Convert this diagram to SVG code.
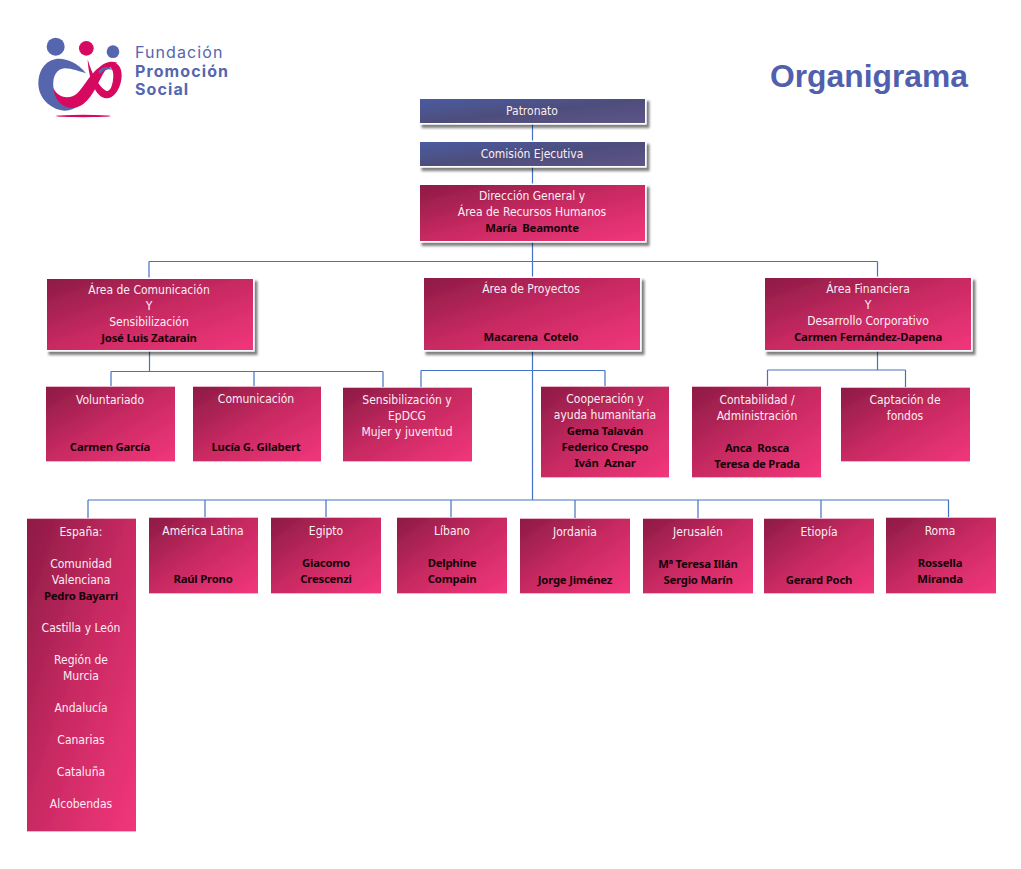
<svg xmlns="http://www.w3.org/2000/svg" width="1021" height="869" viewBox="0 0 1021 869">
<style>
text{font-family:"DejaVu Sans Condensed","DejaVu Sans",sans-serif;font-size:12px;text-anchor:middle;fill:#fbeef3}
text.b{font-family:"Noto Sans","DejaVu Sans",sans-serif;font-weight:bold;fill:#160208;font-size:11.3px;letter-spacing:-.2px;white-space:pre}
.p{fill:url(#pk)}
.v{fill:url(#bl)}
.s{stroke:#fff;stroke-width:3;paint-order:stroke;filter:url(#sh)}
rect.p:not(.s){filter:url(#edge)}
.c{fill:none;stroke:#4472c4;stroke-width:1.2}
text.lt{font-family:Inter,Lato,sans-serif;text-anchor:start;fill:#5566ae;font-size:16px;letter-spacing:1.1px}
text.lb{font-weight:bold}
#title{font-family:"Liberation Sans",Arial,sans-serif;font-weight:bold;font-size:31.8px;fill:#5060ae;text-anchor:start}
.lg{fill:#5566ae}.lp{fill:#d6085f}
</style>
<defs>
<linearGradient id="pk" x1="0" y1="0" x2="1" y2="1"><stop offset="0" stop-color="#8c1b45"/><stop offset=".5" stop-color="#c92a62"/><stop offset="1" stop-color="#f2367c"/></linearGradient>
<linearGradient id="bl" x1="0" y1="0" x2="1" y2="1"><stop offset="0" stop-color="#4a5ba2"/><stop offset=".5" stop-color="#4e4e7c"/><stop offset="1" stop-color="#5e5488"/></linearGradient>
<filter id="sh" x="-10%" y="-30%" width="120%" height="170%"><feDropShadow dx="3" dy="3.500" stdDeviation="1.300" flood-color="#000" flood-opacity=".5"/></filter>
<filter id="edge" x="-2%" y="-5%" width="104%" height="110%"><feFlood flood-color="#eeb6ca" result="f"/><feOffset in="SourceAlpha" dy="1" result="a"/><feOffset in="SourceAlpha" dy="-1" result="b"/><feMerge result="m"><feMergeNode in="a"/><feMergeNode in="b"/></feMerge><feComposite in="f" in2="m" operator="in" result="e"/><feMerge><feMergeNode in="e"/><feMergeNode in="SourceGraphic"/></feMerge></filter>
</defs>
<rect width="1021" height="869" fill="#fff"/>
<g id="logo">
<g transform="translate(20 20) scale(.3333)">
<circle class="lg" cx="107" cy="80" r="27"/><circle class="lp" cx="199" cy="85" r="22"/><circle class="lg" cx="279" cy="95" r="19"/>
<path class="lg" d="M198 160C170 125 130 112 105 118C70 125 55 160 55 190C55 240 100 272 135 272C150 272 165 265 175 258C140 262 105 240 100 200C97 170 110 145 135 145C155 145 180 155 198 160Z"/>
<path class="lp" d="M100 205C115 235 150 240 172 220C192 200 212 160 238 142C250 130 270 120 292 128L255 152C240 172 222 228 190 252C150 280 105 255 100 205Z"/>
<path class="lp" d="M203 118C215 160 235 200 258 212C272 218 280 190 280 165C280 150 272 140 262 135C285 118 305 135 305 165C305 200 285 235 260 235C225 235 205 170 203 118Z"/>
<path class="lg" d="M235 155C245 140 265 135 278 150C265 145 250 148 240 162Z"/>
<ellipse class="lp" cx="190" cy="288" rx="82" ry="3.500"/>
</g>
<text class="lt" x="135" y="58">Fundación</text>
<text class="lt lb" x="135" y="76.500">Promoción</text>
<text class="lt lb" x="135" y="95">Social</text>
</g>
<text id="title" x="770" y="87">Organigrama</text>
<g id="connectors">
<path class="c" d="M532.5 123V142M532.5 166V185M532.5 241V278M149 261.500H877.500M149 261.500V279M877.500 261.500V278"/>
<path class="c" d="M149.500 350V371.500M111 371.500H383M111 371.500V387M254 371.500V387M383 371.500V388"/>
<path class="c" d="M532.500 350V500M421 370.500H605M421 370.500V388M605 370.500V387"/>
<path class="c" d="M877.500 350V370M767.500 370H905.500M767.500 370V387M905.500 370V388"/>
<path class="c" d="M88 500H949M88 500V519M205 500V518M326 500V518M451 500V518M575 500V519M698 500V519M821 500V519M948.500 500V518"/>
</g>
<g id="patronato"><rect class="v s" x="420" y="99" width="225" height="24"/><text x="532" y="115">Patronato</text></g>
<g id="comision"><rect class="v s" x="420" y="142" width="225" height="24"/><text x="532" y="158">Comisión Ejecutiva</text></g>
<g id="direccion"><rect class="p s" x="420" y="185" width="225" height="56"/><text x="532" y="200">Dirección General y</text><text x="532" y="216">Área de Recursos Humanos</text><text class="b" x="532" y="232">María  Beamonte</text></g>
<g id="area-comunicacion"><rect class="p s" x="47" y="279" width="206" height="71"/><text x="149" y="294">Área de Comunicación</text><text x="149" y="310">Y</text><text x="149" y="326">Sensibilización</text><text class="b" x="149" y="342">José Luis Zatarain</text></g>
<g id="area-proyectos"><rect class="p s" x="424" y="278" width="216" height="72"/><text x="531" y="293">Área de Proyectos</text><text class="b" x="531" y="341">Macarena  Cotelo</text></g>
<g id="area-financiera"><rect class="p s" x="765" y="278" width="206" height="72"/><text x="868" y="293">Área Financiera</text><text x="868" y="309">Y</text><text x="868" y="325">Desarrollo Corporativo</text><text class="b" x="868" y="341">Carmen Fernández-Dapena</text></g>
<g id="voluntariado"><rect class="p" x="46" y="387" width="129" height="74"/><text x="110" y="404">Voluntariado</text><text class="b" x="110" y="451">Carmen García</text></g>
<g id="comunicacion"><rect class="p" x="193" y="387" width="128" height="74"/><text x="256" y="403">Comunicación</text><text class="b" x="256" y="451">Lucía G. Gilabert</text></g>
<g id="sensibilizacion"><rect class="p" x="343" y="388" width="129" height="73"/><text x="407" y="404">Sensibilización y</text><text x="407" y="420">EpDCG</text><text x="407" y="436">Mujer y juventud</text></g>
<g id="cooperacion"><rect class="p" x="541" y="387" width="128" height="90"/><text x="605" y="403">Cooperación y</text><text x="605" y="419">ayuda humanitaria</text><text class="b" x="605" y="435">Gema Talaván</text><text class="b" x="605" y="451">Federico Crespo</text><text class="b" x="605" y="467">Iván  Aznar</text></g>
<g id="contabilidad"><rect class="p" x="692" y="387" width="129" height="90"/><text x="757" y="404">Contabilidad /</text><text x="757" y="420">Administración</text><text class="b" x="757" y="452">Anca  Rosca</text><text class="b" x="757" y="468">Teresa de Prada</text></g>
<g id="captacion"><rect class="p" x="841" y="388" width="129" height="73"/><text x="905" y="404">Captación de</text><text x="905" y="420">fondos</text></g>
<g id="espana"><rect class="p" x="27" y="519" width="109" height="312"/><text x="81" y="536">España:</text><text x="81" y="568">Comunidad</text><text x="81" y="584">Valenciana</text><text class="b" x="81" y="600">Pedro Bayarri</text><text x="81" y="632">Castilla y León</text><text x="81" y="664">Región de</text><text x="81" y="680">Murcia</text><text x="81" y="712">Andalucía</text><text x="81" y="744">Canarias</text><text x="81" y="776">Cataluña</text><text x="81" y="808">Alcobendas</text></g>
<g id="america-latina"><rect class="p" x="149" y="518" width="109" height="75"/><text x="203" y="535">América Latina</text><text class="b" x="203" y="583">Raúl Prono</text></g>
<g id="egipto"><rect class="p" x="271" y="518" width="110" height="75"/><text x="326" y="535">Egipto</text><text class="b" x="326" y="567">Giacomo</text><text class="b" x="326" y="583">Crescenzi</text></g>
<g id="libano"><rect class="p" x="397" y="518" width="110" height="75"/><text x="452" y="535">Líbano</text><text class="b" x="452" y="567">Delphine</text><text class="b" x="452" y="583">Compain</text></g>
<g id="jordania"><rect class="p" x="520" y="519" width="110" height="74"/><text x="575" y="536">Jordania</text><text class="b" x="575" y="584">Jorge Jiménez</text></g>
<g id="jerusalen"><rect class="p" x="643" y="519" width="110" height="74"/><text x="698" y="536">Jerusalén</text><text class="b" x="698" y="568">Mª Teresa Illán</text><text class="b" x="698" y="584">Sergio Marín</text></g>
<g id="etiopia"><rect class="p" x="764" y="519" width="110" height="74"/><text x="819" y="536">Etiopía</text><text class="b" x="819" y="584">Gerard Poch</text></g>
<g id="roma"><rect class="p" x="886" y="518" width="110" height="75"/><text x="940" y="535">Roma</text><text class="b" x="940" y="567">Rossella</text><text class="b" x="940" y="583">Miranda</text></g>
</svg>
